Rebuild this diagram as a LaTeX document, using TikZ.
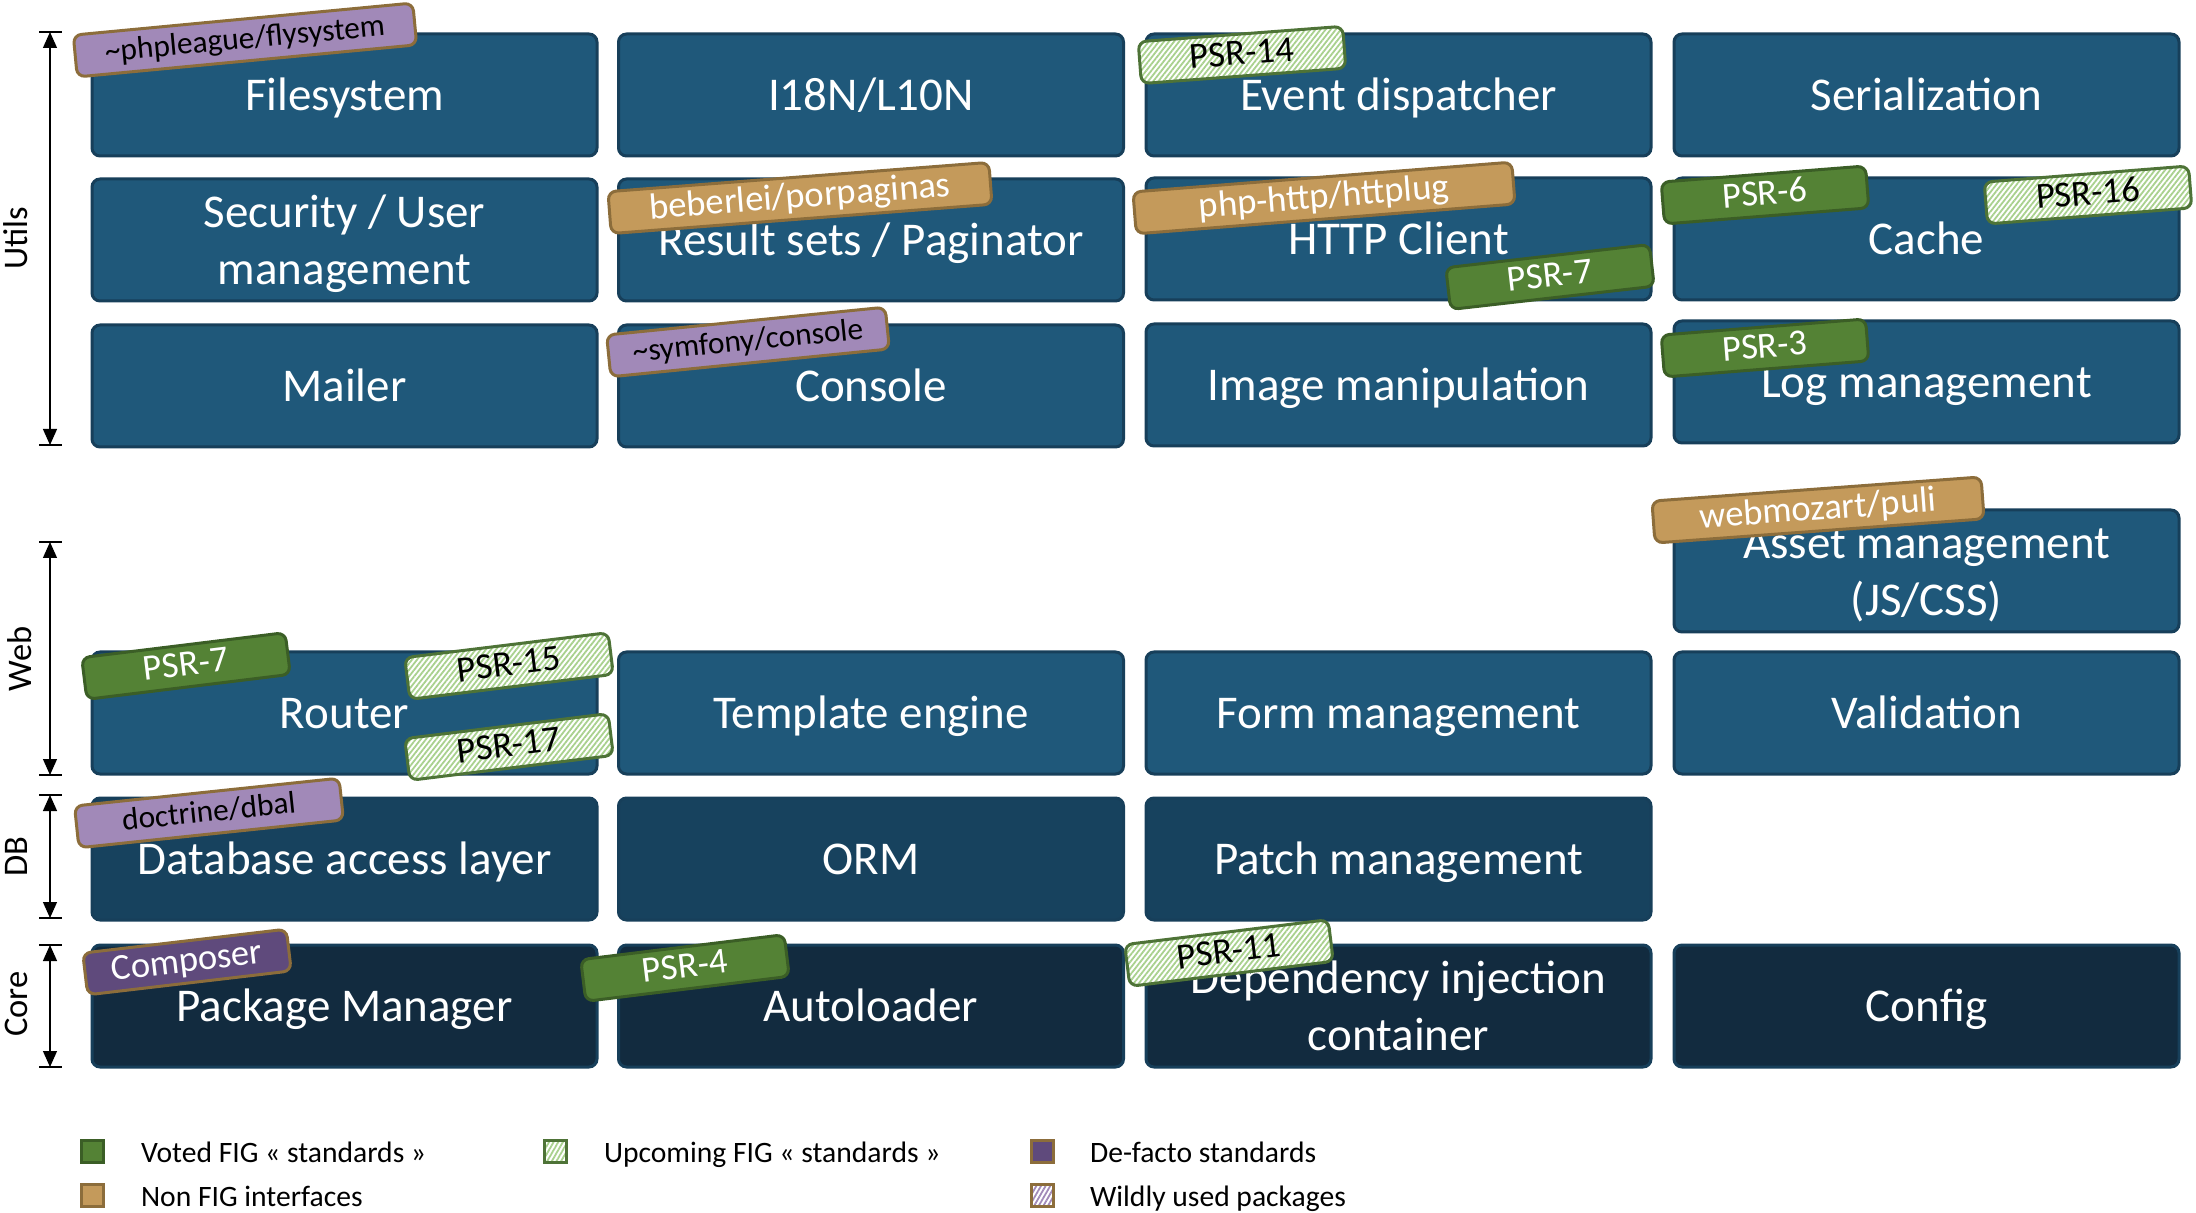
\documentclass[tikz,border=0pt]{standalone}
\usepackage{fontspec}
\setmainfont{Carlito}
\usetikzlibrary{arrows.meta,patterns.meta}

% Layer box colours
\definecolor{boxutil}{HTML}{1F587A}
\definecolor{boxdb}{HTML}{17425E}
\definecolor{boxcore}{HTML}{122B3F}
\definecolor{boxline}{HTML}{173F5A}
% Tag colours
\definecolor{votedfill}{HTML}{548235}
\definecolor{votedline}{HTML}{3B5E26}
\definecolor{hatchgreen}{HTML}{A9D18E}
\definecolor{hatchline}{HTML}{4E7337}
\definecolor{tanfill}{HTML}{C49A5B}
\definecolor{brownline}{HTML}{8C6D3B}
\definecolor{pkgfill}{HTML}{A189B8}
\definecolor{defactofill}{HTML}{5F4A7C}

% strut giving every box line the same height and depth
\newcommand\bxs{\rule[-0.25em]{0pt}{1.18em}}

\tikzset{
  layer/.style={draw=boxline, line width=1.5pt, rounded corners=4pt,
    minimum width=252.5pt, minimum height=61pt, inner sep=0pt,
    align=center, text=white, font=\fontsize{23.5}{28.5}\selectfont},
  utilbox/.style={layer, fill=boxutil},
  dbbox/.style={layer, fill=boxdb},
  corebox/.style={layer, fill=boxcore},
  tag/.style={line width=1.5pt, rounded corners=4pt, minimum width=102.5pt,
    minimum height=21pt, inner sep=0pt, text height=14.6pt, text depth=4.8pt,
    font=\fontsize{18.3}{22}\selectfont},
  voted/.style={tag, fill=votedfill, draw=votedline, text=white},
  upcoming/.style={tag, draw=hatchline, text=black, preaction={fill=white},
    pattern={Lines[angle=52,distance=2pt,line width=0.9pt]}, pattern color=hatchgreen},
  nonfig/.style={tag, fill=tanfill, draw=brownline, text=white},
  defacto/.style={tag, fill=defactofill, draw=brownline, text=white},
  package/.style={tag, fill=pkgfill, draw=brownline, text=black,
    text height=12.6pt, text depth=4.1pt, font=\fontsize{15.7}{19}\selectfont},
  axis/.style={line width=0.6pt, {Triangle[length=8pt,width=7pt]}-{Triangle[length=8pt,width=7pt]}},
  axistick/.style={line width=0.6pt},
  axislabel/.style={rotate=90, anchor=base, font=\fontsize{17.25}{20}\selectfont},
  legendkey/.style={line width=1.5pt, minimum size=11pt, inner sep=0pt},
  legendtext/.style={anchor=base west, font=\fontsize{14.8}{18}\selectfont},
}

\begin{document}
\begin{tikzpicture}[x=0.5pt, y=-0.5pt]
\useasboundingbox (0,0) rectangle (2196,1213);

% ---- Utils ----
\node[utilbox] (fs)       at (344.5,95)  {\bxs Filesystem};
\node[utilbox] (i18n)     at (871,95)    {\bxs I18N/L10N};
\node[utilbox] (events)   at (1398.5,95) {\bxs Event dispatcher};
\node[utilbox] (serial)   at (1926.5,95) {\bxs Serialization};
\node[utilbox] (security) at (344.5,240) {\bxs Security / User\\\bxs management};
\node[utilbox] (results)  at (871,240)   {\bxs Result sets / Paginator};
\node[utilbox] (http)     at (1398.5,239) {\bxs HTTP Client};
\node[utilbox] (cache)    at (1926.5,239) {\bxs Cache};
\node[utilbox] (mailer)   at (344.5,386) {\bxs Mailer};
\node[utilbox] (console)  at (871,386)   {\bxs Console};
\node[utilbox] (image)    at (1398.5,385) {\bxs Image manipulation};
\node[utilbox] (log)      at (1926.5,382) {\bxs Log management};

% ---- Web ----
\node[utilbox] (asset)    at (1926.5,571) {\bxs Asset management\\\bxs (JS/CSS)};
\node[utilbox] (router)   at (344.5,713) {\bxs Router};
\node[utilbox] (template) at (871,713)   {\bxs Template engine};
\node[utilbox] (form)     at (1398.5,713) {\bxs Form management};
\node[utilbox] (valid)    at (1926.5,713) {\bxs Validation};

% ---- DB ----
\node[dbbox] (dbal)  at (344.5,859)  {\bxs Database access layer};
\node[dbbox] (orm)   at (871,859)    {\bxs ORM};
\node[dbbox] (patch) at (1398.5,859) {\bxs Patch management};

% ---- Core ----
\node[corebox] (pkgman)   at (344.5,1006)  {\bxs Package Manager};
\node[corebox] (autoload) at (871,1006)    {\bxs Autoloader};
\node[corebox] (di)       at (1398.5,1006) {\bxs Dependency injection\\\bxs container};
\node[corebox] (config)   at (1926.5,1006) {\bxs Config};

% ---- Tags ----
\node[package, minimum width=170.5pt, rotate=5.4] (tFly)  at (245,40)  {\textasciitilde phpleague/flysystem};
\node[nonfig, minimum width=191pt, rotate=4.4]   (tPag)  at (800,198) {beberlei/porpaginas};
\node[package, minimum width=140pt, rotate=5.7]  (tCons) at (748,342) {\textasciitilde symfony/console};
\node[upcoming, rotate=4.3] (t14) at (1242,55) {PSR-14};
\node[nonfig, minimum width=190pt, rotate=4.5]   (tHttp) at (1324,198) {php-http/httplug};
\node[voted, rotate=6.5]    (t7a) at (1550,277) {PSR-7};
\node[voted, rotate=4.5]    (t6)  at (1765,195) {PSR-6};
\node[upcoming, rotate=4.5] (t16) at (2088,195) {PSR-16};
\node[voted, rotate=4.5]    (t3)  at (1765,348) {PSR-3};
\node[nonfig, minimum width=165pt, rotate=4.2]   (tPuli) at (1818,510) {webmozart/puli};
\node[voted, rotate=7]      (t7b) at (186,666) {PSR-7};
\node[upcoming, rotate=7]   (t15) at (509,666) {PSR-15};
\node[upcoming, rotate=7]   (t17) at (509,747) {PSR-17};
\node[package, minimum width=133pt, rotate=6]    (tDbal) at (209,813) {doctrine/dbal};
\node[defacto, rotate=6.7]  (tComp) at (187,962) {Composer};
\node[voted, rotate=7]      (t4)  at (685,968) {PSR-4};
\node[upcoming, rotate=7]   (t11) at (1229,953) {PSR-11};

% ---- Layer axes ----
\coordinate (uA) at (50,32);   \coordinate (uB) at (50,445);
\coordinate (wA) at (50,542);  \coordinate (wB) at (50,775);
\coordinate (dA) at (50,795);  \coordinate (dB) at (50,918);
\coordinate (cA) at (50,945);  \coordinate (cB) at (50,1067);
\foreach \a/\b in {uA/uB, wA/wB, dA/dB, cA/cB}{
  \draw[axis] (\a) -- (\b);
  \draw[axistick] ([xshift=-5.5pt]\a) -- ([xshift=6pt]\a);
  \draw[axistick] ([xshift=-5.5pt]\b) -- ([xshift=6pt]\b);
}
\node[axislabel] (lUtils) at (27,238)  {Utils};
\node[axislabel] (lWeb)   at (32,659)  {Web};
\node[axislabel] (lDB)    at (27,857)  {DB};
\node[axislabel] (lCore)  at (27,1004) {Core};

% ---- Legend ----
\node[legendkey, fill=votedfill, draw=votedline] (kVoted) at (92.5,1151.5) {};
\node[legendkey, draw=hatchline, preaction={fill=white},
  pattern={Lines[angle=60,distance=2pt,line width=0.9pt]}, pattern color=hatchgreen] (kUp) at (555.5,1151.5) {};
\node[legendkey, fill=defactofill, draw=brownline] (kDefacto) at (1042,1151.5) {};
\node[legendkey, fill=tanfill, draw=brownline] (kNonfig) at (92.5,1195.5) {};
\node[legendkey, draw=brownline, preaction={fill=white},
  pattern={Lines[angle=60,distance=2pt,line width=0.9pt]}, pattern color=pkgfill] (kPkg) at (1042,1195.5) {};
\node[legendtext] (xVoted)   at (134,1162)  {Voted FIG « standards »};
\node[legendtext] (xUp)      at (597,1162)  {Upcoming FIG « standards »};
\node[legendtext] (xDefacto) at (1083,1162) {De-facto standards};
\node[legendtext] (xNonfig)  at (134,1206)  {Non FIG interfaces};
\node[legendtext] (xPkg)     at (1083,1206) {Wildly used packages};
\end{tikzpicture}
\end{document}
